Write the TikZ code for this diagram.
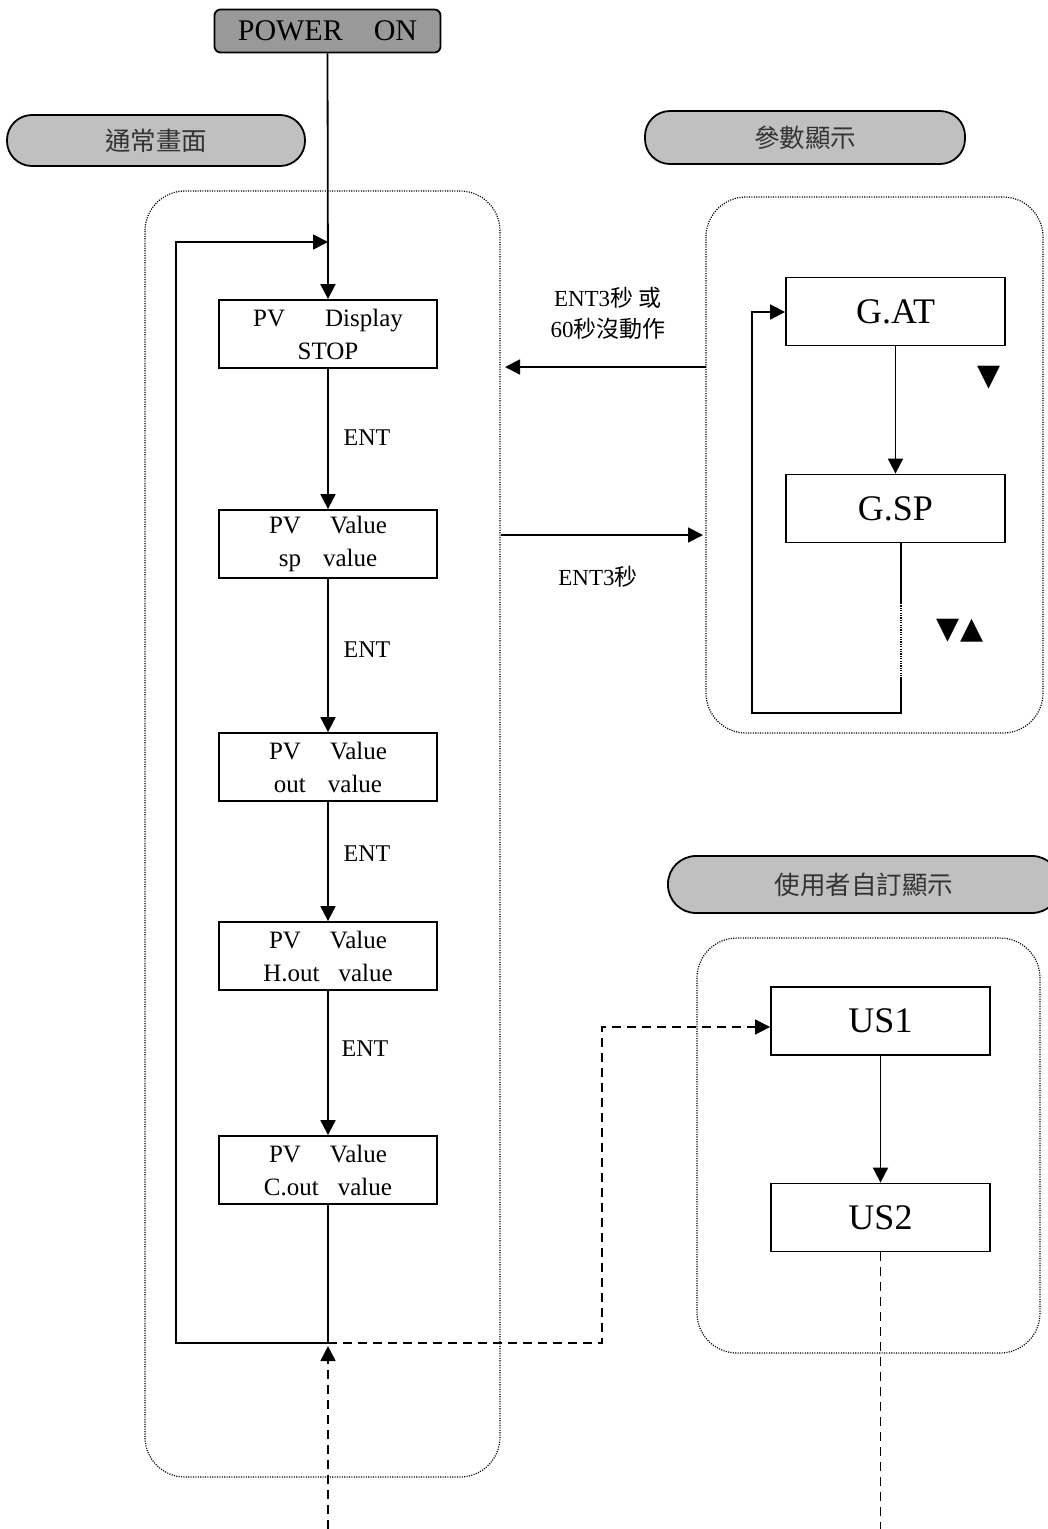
\documentclass[tikz,border=0pt]{standalone}
\usepackage{fontspec}
\setmainfont{Liberation Serif}
\newfontfamily\cjk{Noto Sans CJK TC}
\newfontfamily\symf{DejaVu Sans}
\usetikzlibrary{arrows.meta,calc}
\definecolor{powergray}{HTML}{999999}
\definecolor{bannergray}{HTML}{C0C0C0}
\definecolor{textgray}{HTML}{333333}
\tikzset{
  ln/.style={line width=1.8pt},
  tipT/.style={-{Triangle[length=15pt,width=15pt]}},
  arr/.style={ln,tipT},
  dsh/.style={line width=1.6pt,dash pattern=on 9pt off 6pt},
  dotl/.style={line width=1.2pt,dash pattern=on 1.1pt off 1.3pt},
  box/.style={draw,line width=1.8pt,minimum width=218pt,minimum height=68pt,inner sep=0pt,align=center,font=\fontsize{25}{33}\selectfont},
  bigbox/.style={draw,line width=1.8pt,minimum width=219pt,minimum height=68pt,inner sep=0pt,font=\fontsize{36}{40}\selectfont},
  banner/.style={draw,line width=1.8pt,fill=bannergray,rounded corners=25pt,minimum height=51pt,inner sep=0pt,font=\cjk\fontsize{25.5}{28}\selectfont,text=textgray},
  group/.style={dotl,rounded corners=40pt},
  lbl/.style={font=\fontsize{24}{30}\selectfont,align=center,inner sep=0pt},
  clbl/.style={font=\fontsize{23}{31}\selectfont,align=center,inner sep=0pt},
  symlbl/.style={font=\symf\fontsize{30}{34}\selectfont,inner sep=0pt}
}
\begin{document}
\begin{tikzpicture}[x=1pt,y=-1pt]
\clip (0,0) rectangle (1048,1529);
\fill[white] (0,0) rectangle (1048,1529);

% groups
\draw[group] (145,191) rectangle (500,1477);
\draw[group] (706,197) rectangle (1043,733);
\draw[group] (697,938) rectangle (1040,1353);

% power on
\node[draw,line width=1.8pt,fill=powergray,rounded corners=6pt,minimum width=226pt,minimum height=43pt,inner sep=0pt,font=\fontsize{30}{34}\selectfont] (pw) at (327.5,31) {POWER\hspace{31pt}ON};

% banners
\node[banner,minimum width=298pt] (bn1) at (156,140.5) {通常畫面};
\node[banner,minimum width=320pt,minimum height=53pt] (bn2) at (805,137.5) {參數顯示};
\node[banner,minimum width=392pt,minimum height=57pt,rounded corners=28pt] (bn3) at (864,884.5) {使用者自訂顯示};

% main chain
\node[box] (b1) at (328,334) {PV\hspace{40pt}Display\\STOP};
\node[box] (b2) at (328,544) {PV\hspace{29pt}Value\\sp\hspace{22pt}value};
\node[box] (b3) at (328,767) {PV\hspace{29pt}Value\\out\hspace{22pt}value};
\node[box] (b4) at (328,956) {PV\hspace{29pt}Value\\H.out\hspace{19pt}value};
\node[box] (b5) at (328,1170) {PV\hspace{29pt}Value\\C.out\hspace{19pt}value};

\draw[arr] (pw.south) -- (b1.north);
\draw[arr] (b1.south) -- (b2.north);
\draw[arr] (b2.south) -- (b3.north);
\draw[arr] (b3.south) -- (b4.north);
\draw[arr] (b4.south) -- (b5.north);

\node[lbl] (e1) at (367,438) {ENT};
\node[lbl] (e2) at (367,650) {ENT};
\node[lbl] (e3) at (367,854) {ENT};
\node[lbl] (e4) at (365,1049) {ENT};

% loop
\coordinate (jn) at (328,1343);
\coordinate (lb) at (176,1343);
\coordinate (lt) at (176,242);
\draw[ln] (b5.south) -- (jn);
\draw[arr] (jn) -- (lb) -- (lt) -- (jn |- lt);

% parameter display
\node[bigbox] (gat) at (895.5,311.5) {G.AT};
\node[bigbox] (gsp) at (895.5,508.5) {G.SP};
\draw[arr] (gat.south) -- (gsp.north);
\coordinate (g1) at (901,543);
\coordinate (g2) at (901,603);
\coordinate (g3) at (901,679);
\coordinate (g4) at (901,713);
\coordinate (g5) at (752,713);
\coordinate (g6) at (752,312);
\draw[ln] (g1) -- (g2);
\draw[dotl] (g2) -- (g3);
\draw[arr] (g3) -- (g4) -- (g5) -- (g6) -- (gat.west |- g6);
\node[symlbl] (s1) at (989,378) {▼};
\node[symlbl] (s2) at (960,631) {▼▲};

% transitions between groups
\coordinate (r1) at (706,367);
\coordinate (l1) at (505,367);
\draw[arr] (r1) -- (l1);
\coordinate (l2) at (501,535);
\coordinate (r2) at (703,535);
\draw[arr] (l2) -- (r2);
\node[clbl] (t1) at (608,313) {ENT3{\cjk 秒} {\cjk 或}\\60{\cjk 秒沒動作}};
\node[clbl] (t2) at (598,577) {ENT3{\cjk 秒}};

% user display
\node[bigbox] (us1) at (880.5,1021) {US1};
\node[bigbox] (us2) at (880.5,1217.5) {US2};
\draw[arr] (us1.south) -- (us2.north);

% dashed links
\coordinate (dc) at (602,1343);
\coordinate (du) at (602,1027);
\draw[dsh,tipT] (jn) -- (dc) -- (du) -- (us1.west |- du);
\coordinate (bt) at (328,1529);
\draw[dsh,tipT,shorten >=3pt] (bt) -- (jn);
\draw[dsh] (us2.south) -- (us2.south |- bt);
\end{tikzpicture}
\end{document}
